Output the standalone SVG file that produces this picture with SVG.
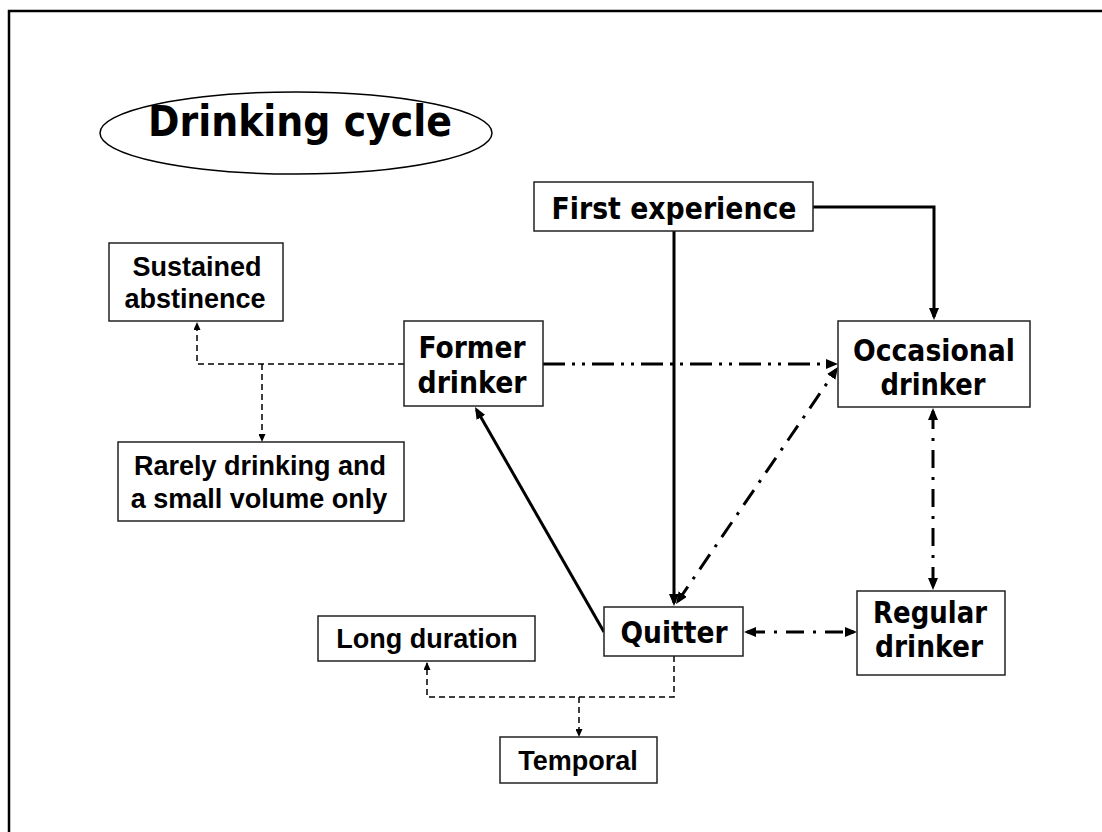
<svg xmlns="http://www.w3.org/2000/svg" width="1102" height="832" viewBox="0 0 1102 832">
  <style>
    .box { fill: #fff; stroke: #222; stroke-width: 1.5; }
    .main { font-family: "DejaVu Sans", Verdana, sans-serif; font-weight: bold; font-size: 30px; fill: #000; text-anchor: middle; }
    .title { font-family: "DejaVu Sans", Verdana, sans-serif; font-weight: bold; font-size: 43px; fill: #000; text-anchor: middle; }
    .sub { font-family: "Liberation Sans", Arial, sans-serif; font-weight: bold; font-size: 27px; fill: #000; text-anchor: middle; }
    .solid { fill: none; stroke: #000; stroke-width: 3; }
    .dd { fill: none; stroke: #000; stroke-width: 3; stroke-dasharray: 22 7 3 7 3 7; }
    .da { fill: none; stroke: #000; stroke-width: 3; stroke-dasharray: 18 9 3 9; }
    .dashed { fill: none; stroke: #000; stroke-width: 1.5; stroke-dasharray: 6 4; }
  </style>
  <defs>
    <marker id="arrow" markerUnits="userSpaceOnUse" markerWidth="12" markerHeight="10" refX="9" refY="5" orient="auto-start-reverse">
      <path d="M0,0 L12,5 L0,10 z" fill="#000"/>
    </marker>
    <marker id="arrowSmall" markerUnits="userSpaceOnUse" markerWidth="8" markerHeight="7" refX="7" refY="3.5" orient="auto-start-reverse">
      <path d="M0,0 L8,3.5 L0,7 z" fill="#000"/>
    </marker>
  </defs>

  <rect x="0" y="0" width="1102" height="832" fill="#fff"/>
  <!-- frame -->
  <path d="M9,832 V11 H1102" fill="none" stroke="#000" stroke-width="2.5"/>

  <!-- title -->
  <g id="title">
    <ellipse cx="296" cy="133" rx="196" ry="41" fill="#fff" stroke="#000" stroke-width="1.5"/>
    <text class="title" x="300" y="136" textLength="304" lengthAdjust="spacingAndGlyphs">Drinking cycle</text>
  </g>

  <!-- connectors -->
  <g id="connectors">
    <path class="solid" d="M674,231 V603" marker-end="url(#arrow)"/>
    <path class="solid" d="M813,207 H934 V317" marker-end="url(#arrow)"/>
    <path class="solid" d="M604,632 L476.5,409.6" marker-end="url(#arrow)"/>
    <path class="dd" d="M543,364 H835" marker-end="url(#arrow)"/>
    <path class="da" d="M677.7,601.5 L836.3,369.5" marker-start="url(#arrow)" marker-end="url(#arrow)"/>
    <path class="da" d="M933,411 V587" marker-start="url(#arrow)" marker-end="url(#arrow)"/>
    <path class="da" d="M747,632 H854" marker-start="url(#arrow)" marker-end="url(#arrow)"/>
    <path class="dashed" d="M404,364 H197 V323" marker-end="url(#arrowSmall)"/>
    <path class="dashed" d="M262,364 V441" marker-end="url(#arrowSmall)"/>
    <path class="dashed" d="M674,656 V697 H427 V663" marker-end="url(#arrowSmall)"/>
    <path class="dashed" d="M579,697 V736" marker-end="url(#arrowSmall)"/>
  </g>

  <g id="first-experience">
    <rect class="box" x="534" y="182" width="279" height="49"/>
    <text class="main" x="674" y="219" textLength="245" lengthAdjust="spacingAndGlyphs">First experience</text>
  </g>

  <g id="former-drinker">
    <rect class="box" x="404" y="321" width="139" height="85"/>
    <text class="main" x="472" y="358" textLength="107" lengthAdjust="spacingAndGlyphs">Former</text>
    <text class="main" x="472" y="393" textLength="109" lengthAdjust="spacingAndGlyphs">drinker</text>
  </g>

  <g id="occasional-drinker">
    <rect class="box" x="838" y="321" width="192" height="86"/>
    <text class="main" x="934" y="361" textLength="162" lengthAdjust="spacingAndGlyphs">Occasional</text>
    <text class="main" x="933" y="395" textLength="105" lengthAdjust="spacingAndGlyphs">drinker</text>
  </g>

  <g id="quitter">
    <rect class="box" x="604" y="607" width="139" height="49"/>
    <text class="main" x="674" y="643" textLength="107" lengthAdjust="spacingAndGlyphs">Quitter</text>
  </g>

  <g id="regular-drinker">
    <rect class="box" x="857" y="591" width="148" height="84"/>
    <text class="main" x="930" y="623" textLength="114" lengthAdjust="spacingAndGlyphs">Regular</text>
    <text class="main" x="929" y="657" textLength="108" lengthAdjust="spacingAndGlyphs">drinker</text>
  </g>

  <g id="sustained-abstinence">
    <rect class="box" x="109" y="243" width="174" height="78"/>
    <text class="sub" x="197" y="276">Sustained</text>
    <text class="sub" x="195" y="308">abstinence</text>
  </g>

  <g id="rarely-drinking">
    <rect class="box" x="118" y="442" width="286" height="79"/>
    <text class="sub" x="260" y="475">Rarely drinking and</text>
    <text class="sub" x="259" y="508">a small volume only</text>
  </g>

  <g id="long-duration">
    <rect class="box" x="318" y="616" width="217" height="45"/>
    <text class="sub" x="427" y="648">Long duration</text>
  </g>

  <g id="temporal">
    <rect class="box" x="500" y="737" width="157" height="46"/>
    <text class="sub" x="578" y="770">Temporal</text>
  </g>
</svg>
